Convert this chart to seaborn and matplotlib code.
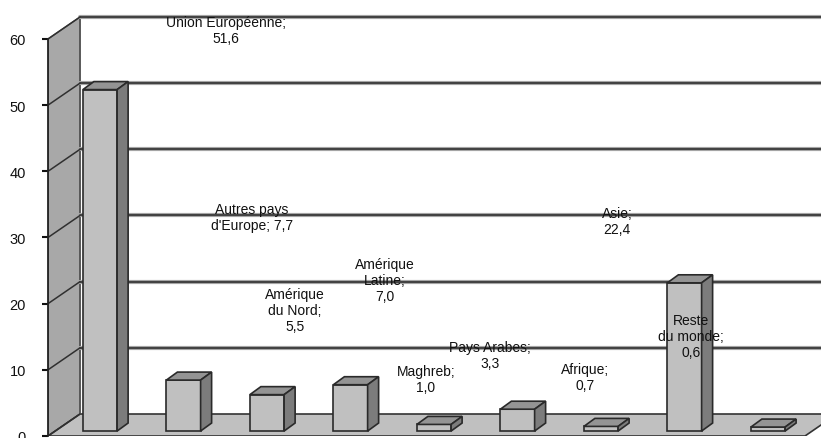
import pandas as pd
import numpy as np
import matplotlib
matplotlib.use('Agg')
import matplotlib.pyplot as plt
from matplotlib.patches import Polygon
import seaborn as sns

# --- data ---
regions = ["Union Européenne", "Autres pays\nd'Europe", "Amérique\ndu Nord",
           "Amérique\nLatine", "Maghreb", "Pays Arabes", "Afrique", "Asie",
           "Reste\ndu monde"]
shares = [51.6, 7.7, 5.5, 7.0, 1.0, 3.3, 0.7, 22.4, 0.6]
label_seps = ["\n", " ", "\n", "\n", "\n", "\n", "\n", "\n", "\n"]
y_ticks = [0, 10, 20, 30, 40, 50, 60]

# where the (misplaced) excel data labels sit, in pixels of the 821x439 picture
label_px = [(226, 31), (252, 218), (295, 311), (385, 281), (426, 380),
            (490, 356), (585, 378), (617, 222), (691, 337)]

sns.set_style('white')
plt.rcParams['font.family'] = ['Liberation Sans', 'DejaVu Sans']

W, H = 821, 439
PX_X = 83.5          # pixels per category
PX_Y = 6.617         # pixels per unit
X0 = (48 - 100) / PX_X
X1 = (W - 100) / PX_X
Y_TOP = 64
WDX, WDY = 32 / PX_X, 22 / PX_Y      # wall depth
BDX, BDY = 11 / PX_X, 8 / PX_Y       # bar depth
BASE = 0.75
FLOOR_X1 = (805 - 100) / PX_X

df = pd.DataFrame({'region': regions, 'share': shares})

fig = plt.figure(figsize=(W / 100, H / 100), dpi=100)
ax = fig.add_axes([48 / W, 2 / H, (W - 48) / W, Y_TOP * PX_Y / H])

sns.barplot(data=df, x='region', y='share', order=regions, width=0.41,
            color='#c0c0c0', saturation=1, edgecolor='#2a2a2a', linewidth=1.2,
            ax=ax, zorder=3)

# --- walls and floor ---
ax.add_patch(Polygon([(X0, 0), (X0, 60), (X0 + WDX, 60 + WDY), (X0 + WDX, WDY)],
                     closed=True, facecolor='#a8a8a8', edgecolor='#555555',
                     lw=1, zorder=0.5))
ax.add_patch(Polygon([(X0, 0), (FLOOR_X1, 0), (FLOOR_X1 + WDX, WDY), (X0 + WDX, WDY)],
                     closed=True, facecolor='#c0c0c0', edgecolor='#333333',
                     lw=1.2, zorder=0.6))
ax.plot([X0 + WDX, X0 + WDX], [WDY, 60 + WDY], color='#555555', lw=1.2, zorder=0.7)

for t in y_ticks[1:]:
    ax.plot([X0 + WDX, X1], [t + WDY, t + WDY], color='#a5a5a5', lw=3, zorder=1)
    ax.plot([X0 + WDX, X1], [t + WDY, t + WDY], color='#303030', lw=1.2, zorder=1.1)
for t in y_ticks:
    ax.plot([X0, X0 + WDX], [t, t + WDY], color='#303030', lw=1.1, zorder=1.1)

# --- fake 3d faces on bars ---
for p in ax.patches:
    if not isinstance(p, matplotlib.patches.Rectangle) or p.get_zorder() != 3:
        continue
    p.set_y(BASE)
    x, w, h = p.get_x(), p.get_width(), p.get_height()
    y = BASE
    top = [(x, y + h), (x + w, y + h), (x + w + BDX, y + h + BDY), (x + BDX, y + h + BDY)]
    side = [(x + w, y), (x + w + BDX, y + BDY), (x + w + BDX, y + h + BDY), (x + w, y + h)]
    ax.add_patch(Polygon(top, closed=True, facecolor='#949494', edgecolor='#2a2a2a',
                         lw=1.2, zorder=3))
    ax.add_patch(Polygon(side, closed=True, facecolor='#7c7c7c', edgecolor='#2a2a2a',
                         lw=1.2, zorder=3))

ax.set_xlim(X0, X1)
ax.set_ylim(0, Y_TOP)
ax.set_xlabel('')
ax.set_ylabel('')
ax.set_xticks([])
ax.set_yticks(y_ticks)
ax.tick_params(axis='y', direction='out', length=4, width=1.5, pad=12,
               labelsize=10.5, colors='#111111', left=True)
for s in ['top', 'right', 'bottom']:
    ax.spines[s].set_visible(False)
ax.spines['left'].set_bounds(0, 60)
ax.spines['left'].set_color('#222222')
ax.spines['left'].set_linewidth(1.3)
ax.patch.set_alpha(0)

# --- data labels ---
for name, val, sep, (px, py) in zip(regions, shares, label_seps, label_px):
    txt = f"{name};{sep}{val:.1f}".replace('.', ',')
    fig.text(px / W, 1 - py / H, txt, ha='center', va='center', fontsize=10,
             color='#111111', linespacing=1.2, zorder=5)

fig.savefig('out.png', dpi=100)
